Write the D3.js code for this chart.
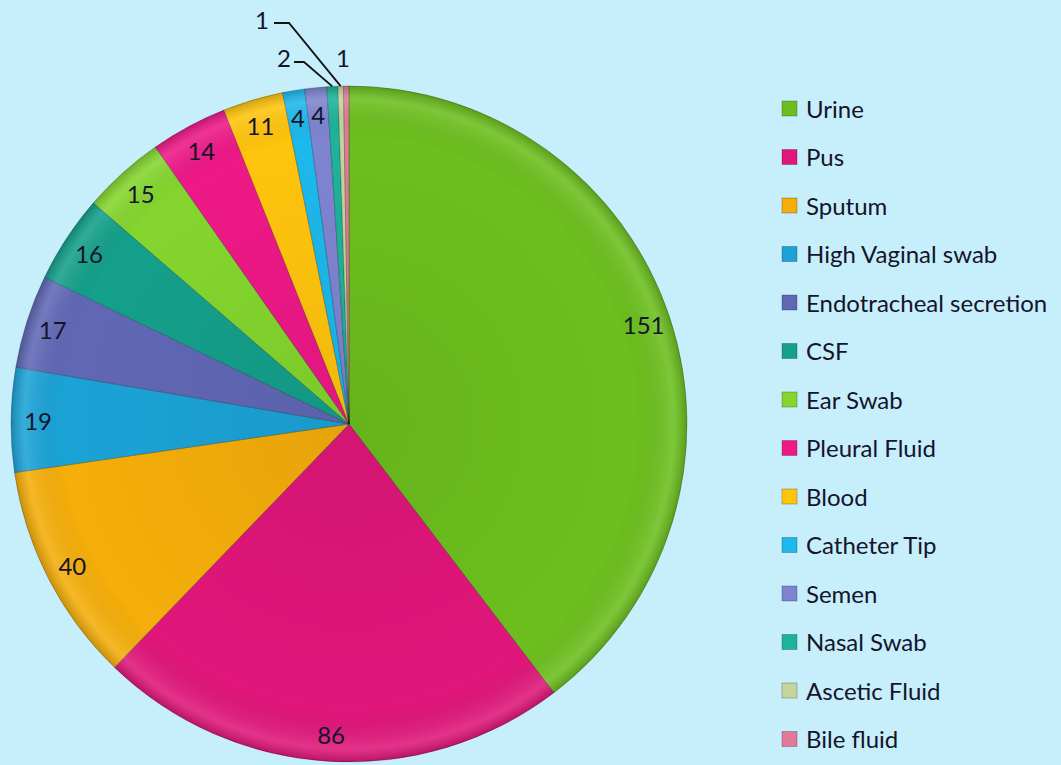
<!DOCTYPE html>
<html>
<head>
<meta charset="utf-8">
<script src="https://cdn.jsdelivr.net/npm/d3@7"></script>
<style>
  html, body { margin: 0; padding: 0; background: #c6eefb; }
  svg { display: block; font-family: Lato, "Open Sans", sans-serif; }
</style>
</head>
<body>
<svg id="chart" width="1061" height="765"></svg>
<script>
// specimen types, clockwise from 12 o'clock
const categories = ["Urine", "Pus", "Sputum", "High Vaginal swab", "Endotracheal secretion",
  "CSF", "Ear Swab", "Pleural Fluid", "Blood", "Catheter Tip", "Semen", "Nasal Swab",
  "Ascetic Fluid", "Bile fluid"];
const counts = [151, 86, 40, 19, 17, 16, 15, 14, 11, 4, 4, 2, 1, 1];
const colors = ["#6cbf1e", "#e0167a", "#f5ae0a", "#1ba3d6", "#6068b6", "#14a08b", "#84d62e",
  "#ee1887", "#ffc40c", "#1db8ec", "#7e84d0", "#1db39a", "#c5d49a", "#e07a98"];

const data = categories.map((c, i) => ({ name: c, value: counts[i], color: colors[i] }));

const svg = d3.select("#chart");
const cx = 349, cy = 424, R = 338;
const textColor = "#14142a";

const pie = d3.pie().value(d => d.value).sort(null);
const arcs = pie(data);

const arc = d3.arc().innerRadius(0).outerRadius(R);
const labelArc = d3.arc().innerRadius(R * 0.92).outerRadius(R * 0.92);

const defs = svg.append("defs");
// soft bevel look: lighter rim, slightly darker toward the edge
const rg = defs.append("radialGradient").attr("id", "shade")
  .attr("cx", cx).attr("cy", cy).attr("r", R).attr("gradientUnits", "userSpaceOnUse");
rg.append("stop").attr("offset", "0%").attr("stop-color", "#000").attr("stop-opacity", 0.06);
rg.append("stop").attr("offset", "85%").attr("stop-color", "#000").attr("stop-opacity", 0);
rg.append("stop").attr("offset", "96%").attr("stop-color", "#fff").attr("stop-opacity", 0.12);
rg.append("stop").attr("offset", "100%").attr("stop-color", "#000").attr("stop-opacity", 0.18);

const g = svg.append("g").attr("transform", `translate(${cx},${cy})`);

g.selectAll("path.slice")
  .data(arcs)
  .join("path")
    .attr("class", "slice")
    .attr("d", arc)
    .attr("fill", d => d.data.color)
    .attr("stroke", "rgba(0,0,0,0.22)")
    .attr("stroke-width", 1);

// overlay for the shading
svg.append("circle")
  .attr("cx", cx).attr("cy", cy).attr("r", R)
  .attr("fill", "url(#shade)")
  .attr("pointer-events", "none");

const labels = svg.append("g").attr("transform", `translate(${cx},${cy})`);

// inside labels for slices with room
const inside = arcs.filter(d => d.data.value >= 4);
labels.selectAll("text.val")
  .data(inside)
  .join("text")
    .attr("class", "val")
    .attr("transform", d => `translate(${labelArc.centroid(d)})`)
    .attr("text-anchor", "middle")
    .attr("dominant-baseline", "central")
    .attr("fill", textColor)
    .style("font-size", "24px")
    .text(d => d.data.value);

// outside labels for the three tiny slices (leader lines like the original)
const small = arcs.filter(d => d.data.value < 4);
const outer = [
  { dx: -65, dy: -367, lx: -55, ly: -362, hx: -45 },   // Nasal Swab
  { dx: -87, dy: -405, lx: -75, ly: -401, hx: -60 },   // Ascetic Fluid
  { dx: -6, dy: -367, lx: null }                       // Bile fluid
];
small.forEach((d, i) => {
  const o = outer[i];
  const mid = (d.startAngle + d.endAngle) / 2;
  const ex = R * Math.sin(mid), ey = -R * Math.cos(mid);
  if (o.lx !== null) {
    labels.append("path")
      .attr("d", `M${o.lx},${o.ly}L${o.hx},${o.ly}L${ex},${ey}`)
      .attr("fill", "none")
      .attr("stroke", "#111")
      .attr("stroke-width", 1.8);
  }
  labels.append("text")
    .attr("x", o.dx).attr("y", o.dy)
    .attr("text-anchor", "middle")
    .attr("dominant-baseline", "central")
    .attr("fill", textColor)
    .style("font-size", "24px")
    .text(d.data.value);
});

// legend
const legend = svg.append("g").attr("transform", "translate(782,108)");
const row = legend.selectAll("g")
  .data(data)
  .join("g")
    .attr("transform", (d, i) => `translate(0,${i * 48.5})`);
row.append("rect")
  .attr("x", 0).attr("y", -7).attr("width", 15).attr("height", 15)
  .attr("fill", d => d.color)
  .attr("stroke", "rgba(0,0,0,0.3)").attr("stroke-width", 0.8);
row.append("text")
  .attr("x", 24).attr("y", 0)
  .attr("dominant-baseline", "central")
  .attr("fill", textColor)
  .style("font-size", "24px")
  .text(d => d.name);
</script>
</body>
</html>
